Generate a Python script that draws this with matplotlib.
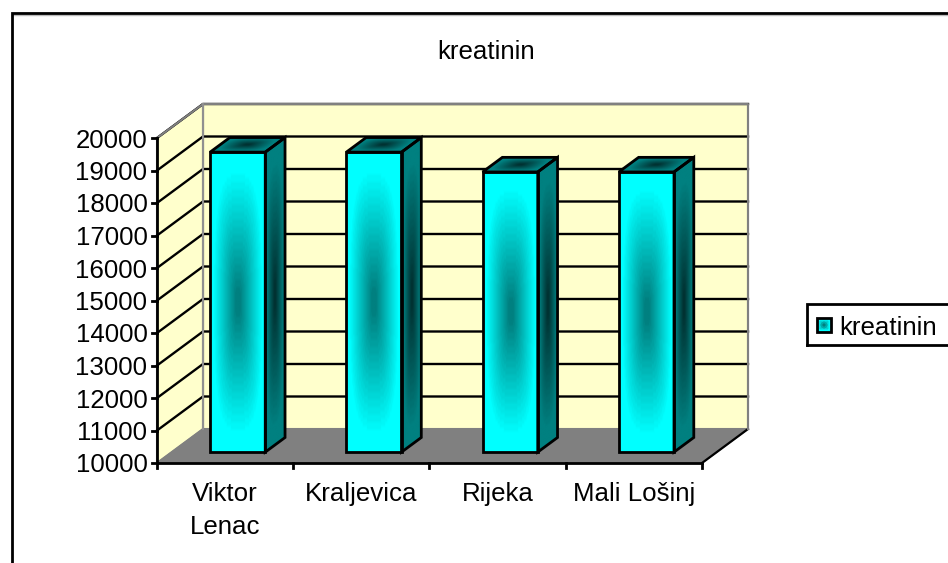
import numpy as np
import matplotlib
matplotlib.use("Agg")
import matplotlib.pyplot as plt
from matplotlib.transforms import Affine2D
from matplotlib.patches import Polygon

categories = ["Viktor\nLenac", "Kraljevica", "Rijeka", "Mali Lošinj"]
values = [19230, 19230, 18620, 18620]
series_name = "kreatinin"
chart_title = "kreatinin"
y_ticks = list(range(10000, 20001, 1000))

W, H = 948, 563
plt.rcParams["font.family"] = ["Liberation Sans", "DejaVu Sans"]
FS = 18.6
fig = plt.figure(figsize=(W / 100, H / 100), dpi=100)
ax = fig.add_axes([0, 0, 1, 1])
ax.set_xlim(0, W)
ax.set_ylim(H, 0)
ax.axis("off")

X0, X1, Y0, Y1 = 157.0, 702.0, 463.0, 138.0   # front plane of the 3D box
DX, DY = 46.0, -34.0                          # box depth
VMIN, VMAX = y_ticks[0], y_ticks[-1]


def P(cat, val, d=0.0):
    """Project (category position, value, depth 0..1) to pixels."""
    x = X0 + (X1 - X0) * cat / len(categories) + DX * d
    y = Y0 + (Y1 - Y0) * (val - VMIN) / (VMAX - VMIN) + DY * d
    return x, y


n = len(categories)
WALL = "#FFFFCC"
FLOOR = "#808080"
GRID = "#808080"
# walls and floor
ax.add_patch(Polygon([P(0, VMIN, 1), P(n, VMIN, 1), P(n, VMAX, 1), P(0, VMAX, 1)],
                     fc=WALL, ec=GRID, lw=1.5, zorder=1))
ax.add_patch(Polygon([P(0, VMIN, 0), P(0, VMIN, 1), P(0, VMAX, 1), P(0, VMAX, 0)],
                     fc=WALL, ec=GRID, lw=1.5, zorder=1))
ax.add_patch(Polygon([P(0, VMIN, 0), P(n, VMIN, 0), P(n, VMIN, 1), P(0, VMIN, 1)],
                     fc=FLOOR, ec=GRID, lw=1, zorder=2))
ax.plot(*zip(P(n, VMIN, 0), P(n, VMIN, 1)), color="black", lw=1.6, zorder=3)
# gridlines
for v in y_ticks[1:]:
    ax.plot(*zip(P(0, v, 0), P(0, v, 1), P(n, v, 1)), color="black", lw=1.7, zorder=3,
            solid_joinstyle="miter")
# gray top edge on the walls
ax.plot(*zip(P(0, VMAX, 0), P(0, VMAX, 1), P(n, VMAX, 1), P(n, VMIN, 1)),
        color=GRID, lw=1.5, zorder=3)
ax.plot(*zip(P(0, VMIN, 1), P(0, VMAX, 1)), color="#909090", lw=1.5, zorder=3)
# axes
ax.plot(*zip(P(0, VMAX), P(0, VMIN), P(n, VMIN)), color="black", lw=2, zorder=6,
        solid_joinstyle="miter")
for v in y_ticks:
    x, y = P(0, v)
    ax.plot([x - 5, x], [y, y], color="black", lw=2, zorder=6)
    ax.text(x - 9.5, y + 2.5, str(v), ha="right", va="center", fontsize=FS, color="black")
for i in range(n + 1):
    x, y = P(i, VMIN)
    ax.plot([x, x], [y, y + 5], color="black", lw=2, zorder=6)
for i, c in enumerate(categories):
    x, y = P(i + 0.5, VMIN)
    ax.text(x, y + 19, c, ha="center", va="top", fontsize=FS, linespacing=1.5, color="black")


def grad(outer, inner, nx=80, ny=80, levels=16, p=3.0):
    u = np.linspace(-1, 1, nx)
    v = np.linspace(-1, 1, ny)
    U, V = np.meshgrid(u, v)
    r = (np.abs(U) ** p + np.abs(V) ** p) ** (1 / p)
    t = np.clip((0.88 - r) / 0.8, 0, 1)
    t = np.round(t * levels) / levels
    o, i = np.array(outer, float), np.array(inner, float)
    return (o + (i - o) * t[..., None]) / 255


def face(p0, p1, p3, outer, inner):
    """Draw gradient in parallelogram p0 (origin), p1 (u axis), p3 (v axis)."""
    p0, p1, p3 = map(np.array, (p0, p1, p3))
    e1, e2 = p1 - p0, p3 - p0
    M = Affine2D.from_values(e1[0], e1[1], e2[0], e2[1], p0[0], p0[1])
    im = ax.imshow(grad(outer, inner), extent=(0, 1, 0, 1), origin="lower",
                   interpolation="bilinear", aspect="auto", zorder=4,
                   transform=M + ax.transData)
    p2 = p1 + e2
    clip = Polygon([p0, p1, p2, p3], transform=ax.transData, fc="none", ec="none")
    im.set_clip_path(clip)
    ax.add_patch(Polygon([p0, p1, p2, p3], fc="none", ec="black", lw=2, zorder=5,
                         joinstyle="miter"))


BAR_W = 0.405
BAR_SHIFT = -0.016
D0, D1 = 0.32, 0.75
CYAN = (0, 255, 255)
TEAL = (0, 128, 128)
DARK = (0, 50, 50)
for i, val in enumerate(values):
    left = i + 0.5 + BAR_SHIFT - BAR_W / 2
    right = i + 0.5 + BAR_SHIFT + BAR_W / 2
    fl = P(left, VMIN, D0)
    fr = P(right, VMIN, D0)
    tl = P(left, val, D0)
    tr = P(right, val, D0)
    trb = P(right, val, D1)
    tlb = P(left, val, D1)
    face(tr, trb, fr, TEAL, DARK)
    face(tl, tr, tlb, TEAL, DARK)
    face(tl, tr, fl, CYAN, TEAL)
ax.set_xlim(0, W)
ax.set_ylim(H, 0)

ax.text(486.5, 52, chart_title, ha="center", va="center", fontsize=FS, color="black")

# legend
ax.plot([807.5, 807.5, 952], [345, 304, 304], color="black", lw=2, zorder=7, solid_joinstyle="miter")
ax.plot([807.5, 952], [345, 345], color="black", lw=2, zorder=7)
ax.imshow(grad(CYAN, TEAL, 14, 14, 6), extent=(817.5, 831.5, 332, 318), aspect="auto", zorder=7)
ax.add_patch(Polygon([(817.5, 318), (831.5, 318), (831.5, 332), (817.5, 332)], fc="none",
                     ec="black", lw=2, zorder=8))
ax.text(839, 328, series_name, ha="left", va="center", fontsize=FS, color="black", zorder=8)
ax.set_xlim(0, W)
ax.set_ylim(H, 0)

# chart frame
ax.plot([12, 12, W + 5], [H + 5, 13, 13], color="black", lw=2, zorder=9, solid_joinstyle="miter")
ax.plot([13, W + 5], [14.5, 14.5], color="#BBBBBB", lw=1, zorder=8)

fig.savefig("out.png", dpi=100, facecolor="white")
